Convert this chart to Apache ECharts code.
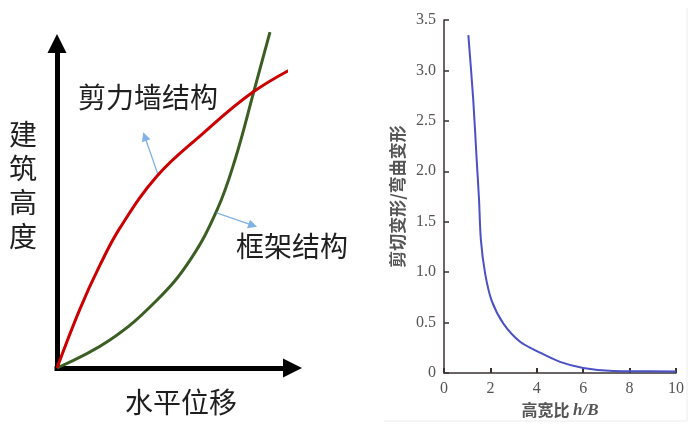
<!DOCTYPE html>
<html><head><meta charset="utf-8">
<script src="https://cdn.jsdelivr.net/npm/echarts@6/dist/echarts.min.js"></script>
<style>html,body{margin:0;padding:0;background:#fff}#c{width:696px;height:427px}</style>
</head><body><div id="c"></div>
<script>
// ---- Left schematic: lateral displacement vs building height ----
const shearWallX = [0, 10.0, 18.8, 27.5, 43.7, 62.4, 85.6, 107.4];
const shearWallY = [0, 18.3, 32.0, 43.5, 59.6, 72.0, 85.7, 94.7];
const frameX = [0, 23.1, 43.7, 58.1, 69.9, 77.7, 86.0, 93.0];
const frameY = [0, 8.7, 21.1, 33.5, 49.1, 64.6, 86.0, 104.3];
const annotationArrows = [
  [[44.2, 59.9], [38.3, 71.9]],
  [[69.7, 48.2], [85.5, 44.3]]
];
const leftLabels = ['剪力墙结构', '框架结构', '建筑高度', '水平位移'];

// ---- Right plot: shear / bending deformation vs aspect ratio ----
const aspectRatio = [1.05, 1.26, 1.41, 1.51, 1.59, 1.77, 2.05, 2.56, 3.28, 4.07, 5.0, 6.0, 7.3, 8.0, 10.0];
const deformRatio = [3.35, 2.71, 2.11, 1.72, 1.32, 0.99, 0.72, 0.49, 0.31, 0.21, 0.11, 0.05, 0.02, 0.018, 0.015];
const xTickValues = [0, 2, 4, 6, 8, 10];
const yTickValues = [0, 0.5, 1.0, 1.5, 2.0, 2.5, 3.0, 3.5];

const chart = echarts.init(document.getElementById('c'));
const blackAxis = {color: '#000', width: 5, cap: 'square'};
const darkAxis = {color: '#3a3232', width: 1.5};
const cjk = '"Noto Sans CJK SC", sans-serif';

const option = {
  animation: false,
  backgroundColor: '#fff',
  grid: [
    {left: 57, top: 46, width: 229, height: 322},
    {left: 444, top: 20, width: 232, height: 353}
  ],
  xAxis: [
    {gridIndex: 0, type: 'value', min: 0, max: 100,
     axisLine: {show: true, onZero: false, symbol: ['none', 'triangle'], symbolSize: [19, 19], symbolOffset: [0, 6.5], lineStyle: blackAxis},
     axisTick: {show: false}, axisLabel: {show: false}, splitLine: {show: false}},
    {gridIndex: 1, type: 'value', min: xTickValues[0], max: xTickValues[xTickValues.length - 1], interval: 2,
     name: '高宽比 {i|h/B}', nameLocation: 'middle', nameGap: 28,
     nameTextStyle: {fontFamily: cjk, fontSize: 16, fontWeight: 'bold', color: '#555',
       rich: {i: {fontFamily: '"Liberation Serif", serif', fontStyle: 'italic', fontSize: 17, color: '#555'}}},
     axisLine: {show: true, onZero: false, lineStyle: darkAxis},
     axisTick: {show: true, inside: true, length: 5, lineStyle: {color: '#3a3232', width: 2}},
     axisLabel: {fontFamily: '"Liberation Serif", serif', fontSize: 16, color: '#555', margin: 8},
     splitLine: {show: false}}
  ],
  yAxis: [
    {gridIndex: 0, type: 'value', min: 0, max: 100,
     axisLine: {show: true, onZero: false, symbol: ['none', 'triangle'], symbolSize: [19, 19], symbolOffset: [0, 2.5], lineStyle: blackAxis},
     axisTick: {show: false}, axisLabel: {show: false}, splitLine: {show: false}},
    {gridIndex: 1, type: 'value', min: yTickValues[0], max: yTickValues[yTickValues.length - 1], interval: 0.5,
     name: '剪切变形/弯曲变形', nameLocation: 'middle', nameGap: 38,
     nameTextStyle: {fontFamily: cjk, fontSize: 17, fontWeight: 'bold', color: '#555'},
     axisLine: {show: true, onZero: false, lineStyle: darkAxis},
     axisTick: {show: true, inside: true, length: 5, lineStyle: {color: '#3a3232', width: 1.5}},
     axisLabel: {fontFamily: '"Liberation Serif", serif', fontSize: 16, color: '#555', margin: 8,
       formatter: v => v === 0 ? '0' : v.toFixed(1)},
     splitLine: {show: false}}
  ],
  series: [
    {type: 'line', xAxisIndex: 0, yAxisIndex: 0, smooth: 0.4, clip: false, showSymbol: false, z: 5,
     data: shearWallX.map((x, i) => [x, shearWallY[i]]),
     lineStyle: {color: '#cc0000', width: 3},
     markLine: {silent: true, symbol: ['none', 'triangle'], symbolSize: 9, label: {show: false},
       lineStyle: {color: '#7fb2e5', width: 1.3, type: 'solid'},
       data: annotationArrows.map(a => [{coord: a[0]}, {coord: a[1]}])}},
    {type: 'line', xAxisIndex: 0, yAxisIndex: 0, smooth: 0.4, clip: false, showSymbol: false, z: 4,
     data: frameX.map((x, i) => [x, frameY[i]]),
     lineStyle: {color: '#3b5e22', width: 3}},
    {type: 'line', xAxisIndex: 1, yAxisIndex: 1, smooth: 0.3, showSymbol: false,
     data: aspectRatio.map((x, i) => [x, deformRatio[i]]),
     lineStyle: {color: '#4b50c4', width: 2}}
  ],
  graphic: [
    {type: 'text', style: {text: leftLabels[0], x: 78, y: 97, font: '28px ' + cjk, fill: '#1f1f1f', verticalAlign: 'middle'}},
    {type: 'text', style: {text: leftLabels[1], x: 236, y: 246, font: '28px ' + cjk, fill: '#1f1f1f', verticalAlign: 'middle'}},
    {type: 'text', style: {text: leftLabels[2].split('').join('\n'), x: 23, y: 185, font: '28px ' + cjk, lineHeight: 34, fill: '#1f1f1f', align: 'center', verticalAlign: 'middle'}},
    {type: 'text', style: {text: leftLabels[3], x: 181, y: 402, font: '28px ' + cjk, fill: '#1f1f1f', align: 'center', verticalAlign: 'middle'}},
    {type: 'polyline', shape: {points: [[384, 421], [687, 421], [687, 8]]}, style: {stroke: '#ececec', lineWidth: 1, fill: 'none'}}
  ]
};
chart.setOption(option);
</script>
</body></html>
